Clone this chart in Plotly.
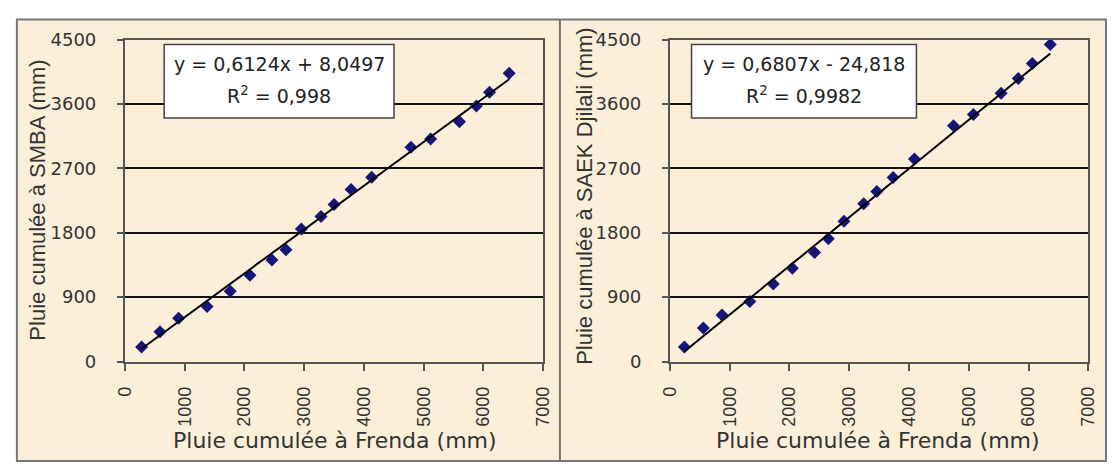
import plotly.graph_objects as go

# Double-mass curves: cumulative rainfall at Frenda vs. two other stations
frenda_a = [279, 587, 899, 1375, 1763, 2092, 2460, 2695, 2953, 3281,
            3500, 3784, 4129, 4786, 5115, 5598, 5882, 6101, 6430]
smba = [204, 418, 605, 770, 984, 1206, 1419, 1562, 1852, 2029,
        2194, 2407, 2577, 2995, 3111, 3351, 3574, 3765, 4032]

frenda_b = [242, 559, 871, 1336, 1730, 2049, 2420, 2650, 2913, 3242,
            3462, 3735, 4091, 4744, 5077, 5542, 5828, 6063, 6364]
saek = [204, 471, 650, 841, 1085, 1304, 1526, 1718, 1963, 2207,
        2376, 2573, 2830, 3298, 3454, 3752, 3956, 4166, 4433]

# Linear trend coefficients (slope, intercept) and R²
fit_a = (0.6124, 8.0497)
fit_b = (0.6807, -24.818)
eq_a = ["y = 0,6124x + 8,0497", "R<sup>2</sup> = 0,998"]
eq_b = ["y = 0,6807x - 24,818", "R<sup>2</sup> = 0,9982"]

x_title = "Pluie cumulée à Frenda (mm)"
y_title_a = "Pluie cumulée à SMBA (mm)"
y_title_b = "Pluie cumulée à SAEK Djilali (mm)"

x_ticks = [0, 1000, 2000, 3000, 4000, 5000, 6000, 7000]
y_ticks = [0, 900, 1800, 2700, 3600, 4500]

W, H = 1114, 469
FONT = "Liberation Sans, Arial, sans-serif"
WIDE = "DejaVu Sans, Verdana, sans-serif"
MARKER = "#16167a"
CREAM = "#fbefda"


def px(x):
    return x / W


def py(y):
    return 1 - y / H


def trend(xs, fit):
    lo, hi = min(xs), max(xs)
    return [lo, hi], [fit[0] * lo + fit[1], fit[0] * hi + fit[1]]


fig = go.Figure()

for xs, ys, fit, ax in [(frenda_a, smba, fit_a, ""), (frenda_b, saek, fit_b, "2")]:
    fig.add_trace(go.Scatter(
        x=xs, y=ys, mode="markers", xaxis="x" + ax, yaxis="y" + ax,
        marker=dict(symbol="diamond", size=10, color=MARKER,
                    line=dict(width=0)),
        showlegend=False, hoverinfo="x+y"))
    tx, ty = trend(xs, fit)
    fig.add_trace(go.Scatter(
        x=tx, y=ty, mode="lines", xaxis="x" + ax, yaxis="y" + ax,
        line=dict(color="black", width=2), showlegend=False, hoverinfo="skip"))

xaxis_common = dict(
    range=[0, 7000], tickvals=x_ticks, tickangle=-90,
    ticks="outside", ticklen=7, tickwidth=2, tickcolor="#555",
    showline=True, linecolor="#555", linewidth=2, mirror=True,
    showgrid=False, zeroline=False, ticklabelstandoff=9,
    tickfont=dict(family=FONT, size=18, color="#333"),
)
yaxis_common = dict(
    range=[0, 4500], tickvals=y_ticks,
    ticks="outside", ticklen=6, tickwidth=2, tickcolor="#555",
    showline=True, linecolor="#555", linewidth=2, mirror=True,
    showgrid=True, gridcolor="#111", gridwidth=1.5, zeroline=False,
    ticklabelstandoff=17,
    tickfont=dict(family=WIDE, size=18, color="#333"),
)

y_dom = [py(367), py(30)]
fig.update_layout(
    width=W, height=H,
    margin=dict(l=0, r=0, t=0, b=0),
    paper_bgcolor="white", plot_bgcolor="white",
    xaxis=dict(domain=[px(117), px(543)], anchor="y", **xaxis_common),
    yaxis=dict(domain=y_dom, anchor="x", **yaxis_common),
    xaxis2=dict(domain=[px(672), px(1098)], anchor="y2", **xaxis_common),
    yaxis2=dict(domain=y_dom, anchor="x2", **yaxis_common),
    font=dict(family=FONT, color="#333"),
)

shapes = [
    # cream panel frame with a divider between the two charts
    dict(type="rect", xref="paper", yref="paper", layer="below",
         x0=px(7), x1=px(1116), y0=py(471), y1=py(9),
         fillcolor=CREAM, line=dict(color="#777", width=2)),
    dict(type="line", xref="paper", yref="paper", layer="below",
         x0=px(560), x1=px(560), y0=py(471), y1=py(9),
         line=dict(color="#777", width=2)),
]
annotations = []

for (bx0, bx1), lines in [((157, 391), eq_a), ((694, 923), eq_b)]:
    shapes.append(dict(type="rect", xref="paper", yref="paper", layer="above",
                       x0=px(bx0), x1=px(bx1), y0=py(112), y1=py(35),
                       fillcolor="white", line=dict(color="#444", width=1.5)))
    cx = (bx0 + bx1) / 2
    for text, yc in zip(lines, [55, 88]):
        annotations.append(dict(
            xref="paper", yref="paper", x=px(cx), y=py(yc),
            xanchor="center", yanchor="middle", showarrow=False, text=text,
            font=dict(family=WIDE, size=19, color="#222")))

# axis titles
for cx, text in [(331, x_title), (884, x_title)]:
    annotations.append(dict(
        xref="paper", yref="paper", x=px(cx), y=py(450),
        xanchor="center", yanchor="middle", showarrow=False, text=text,
        font=dict(family=WIDE, size=22, color="#333")))
for cx, cy, text in [(28, 198, y_title_a), (585, 194, y_title_b)]:
    annotations.append(dict(
        xref="paper", yref="paper", x=px(cx), y=py(cy),
        xanchor="center", yanchor="middle", showarrow=False, text=text,
        textangle=-90,
        font=dict(family=FONT, size=22, color="#333")))

fig.update_layout(shapes=shapes, annotations=annotations)

fig.write_html("out.html")
